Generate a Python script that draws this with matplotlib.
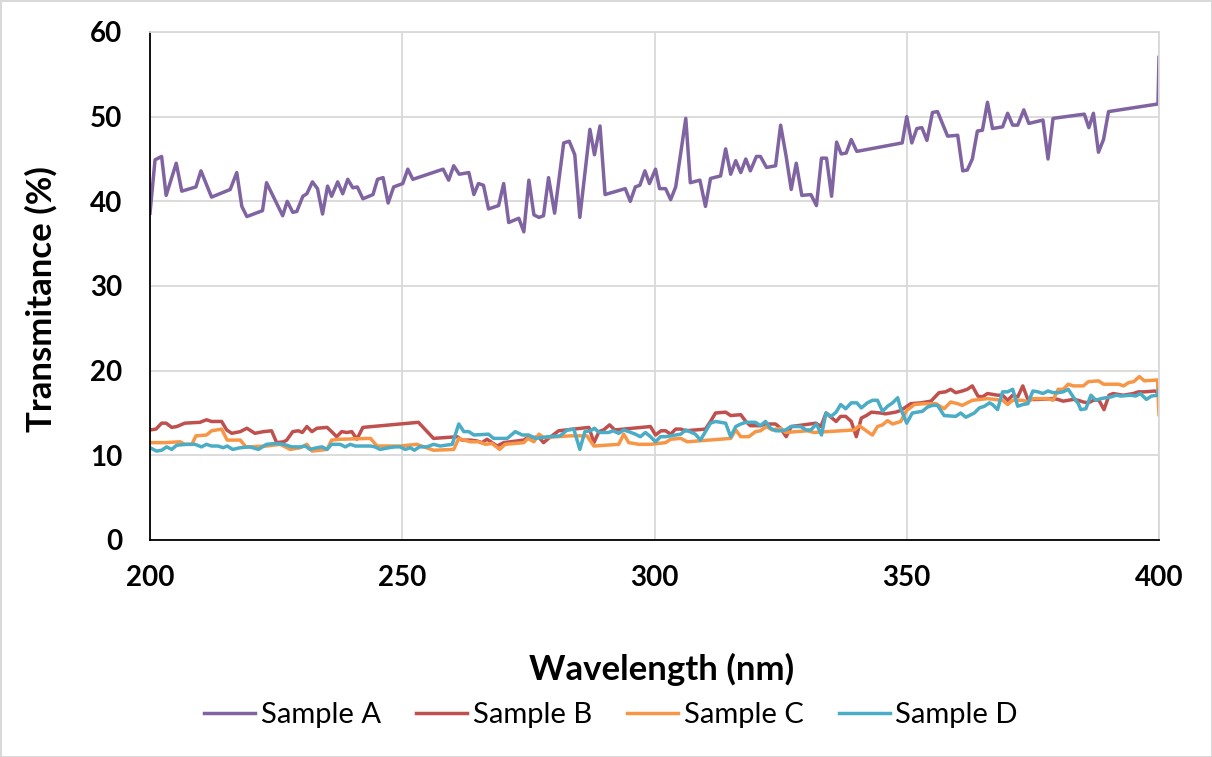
import numpy as np
import matplotlib
matplotlib.use("Agg")
import matplotlib.pyplot as plt

# Sample A
xa = [200.0, 201.0, 202.3, 203.2, 205.2, 206.3, 209.1, 210.1, 212.2, 215.9, 217.2, 218.2, 219.2, 222.3,
      223.1, 226.3, 227.2, 228.3, 229.1, 230.3, 231.1, 232.2, 233.2, 234.2, 235.2, 236.0, 237.2, 238.2,
      239.2, 240.2, 241.1, 242.2, 244.2, 245.1, 246.2, 247.2, 248.3, 250.1, 251.1, 252.1, 258.1, 259.2,
      260.2, 261.3, 263.2, 264.2, 265.1, 266.1, 267.1, 269.1, 270.1, 271.1, 273.1, 274.1, 275.1, 276.1,
      277.1, 278.0, 279.0, 280.2, 282.0, 283.1, 284.2, 285.2, 287.2, 288.1, 289.2, 290.2, 294.2, 295.2,
      296.2, 297.1, 298.1, 299.0, 300.2, 301.0, 302.2, 303.2, 304.2, 305.2, 306.2, 307.1, 309.0, 310.1,
      311.1, 313.1, 314.1, 315.1, 316.1, 317.1, 318.1, 319.0, 320.2, 321.0, 322.2, 324.0, 325.0, 326.1,
      327.1, 328.1, 329.2, 331.0, 332.1, 333.1, 334.1, 335.1, 336.1, 337.0, 338.0, 339.0, 340.1, 349.1,
      350.0, 351.0, 352.0, 353.0, 354.0, 355.1, 356.1, 358.1, 360.1, 361.1, 362.0, 363.0, 364.0, 365.0,
      366.0, 367.0, 369.0, 370.0, 371.0, 372.0, 373.2, 374.2, 377.0, 378.0, 379.0, 385.2, 386.1, 387.0,
      388.0, 389.0, 390.0, 399.8, 400.0]
ya = [38.6, 44.9, 45.3, 40.7, 44.5, 41.2, 41.7, 43.6, 40.5, 41.4, 43.4, 39.4, 38.2, 38.9,
      42.2, 38.3, 40.0, 38.7, 38.8, 40.6, 40.9, 42.3, 41.5, 38.5, 41.8, 40.6, 42.3, 40.9,
      42.6, 41.6, 41.7, 40.3, 40.8, 42.6, 42.8, 39.8, 41.7, 42.1, 43.8, 42.6, 43.8, 42.5,
      44.2, 43.2, 43.4, 40.8, 42.1, 41.9, 39.1, 39.5, 42.1, 37.5, 38.0, 36.4, 42.5, 38.4,
      38.1, 38.3, 42.8, 38.6, 46.9, 47.1, 45.5, 38.1, 48.5, 45.5, 48.9, 40.8, 41.5, 40.0,
      41.7, 41.9, 43.6, 42.1, 43.8, 41.5, 41.5, 40.2, 41.7, 45.7, 49.8, 42.2, 42.5, 39.4,
      42.7, 43.0, 46.2, 43.2, 44.8, 43.4, 45.0, 43.6, 45.3, 45.3, 44.0, 44.2, 49.0, 45.3,
      41.4, 44.5, 40.7, 40.8, 39.5, 45.1, 45.1, 40.6, 47.0, 45.6, 45.7, 47.3, 45.9, 46.9,
      50.0, 46.9, 48.6, 48.7, 47.2, 50.5, 50.6, 47.7, 47.8, 43.6, 43.7, 45.0, 48.3, 48.4,
      51.7, 48.6, 48.8, 50.4, 49.0, 49.0, 50.8, 49.2, 49.6, 45.0, 49.8, 50.3, 48.7, 50.4,
      45.8, 47.3, 50.6, 51.5, 57.0]

# Sample B
xb = [200.0, 201.2, 202.3, 203.2, 204.3, 205.3, 206.9, 209.9, 211.2, 212.2, 214.2, 215.2, 216.2, 217.9,
      219.2, 220.8, 222.5, 224.1, 225.1, 226.5, 227.1, 228.3, 229.4, 230.2, 231.1, 232.1, 233.1, 235.1,
      236.0, 237.0, 238.0, 239.0, 240.0, 241.0, 242.2, 249.6, 253.2, 256.2, 260.9, 261.8, 263.5, 264.8,
      265.8, 266.8, 267.8, 268.8, 270.1, 274.1, 275.1, 276.1, 277.0, 278.0, 279.0, 281.0, 284.0, 287.0,
      288.0, 289.0, 289.9, 291.1, 292.1, 299.2, 300.2, 301.3, 302.2, 303.2, 304.2, 305.2, 306.2, 310.1,
      311.1, 312.1, 314.1, 315.1, 317.1, 318.1, 319.0, 321.0, 322.0, 324.0, 325.0, 326.1, 327.1, 332.0,
      333.0, 334.0, 335.0, 336.0, 336.9, 337.9, 339.0, 340.0, 341.0, 342.0, 343.0, 344.8, 345.8, 347.8,
      348.8, 350.8, 352.8, 354.8, 356.4, 357.7, 358.7, 359.7, 361.0, 362.0, 363.0, 364.1, 365.0, 366.0,
      368.0, 369.0, 370.0, 371.0, 372.0, 373.0, 374.0, 376.0, 379.0, 380.0, 381.0, 382.0, 383.0, 384.0,
      385.0, 386.0, 387.0, 388.1, 389.1, 390.1, 390.9, 392.9, 394.9, 395.9, 397.2, 399.2, 400.0]
yb = [13.0, 13.1, 13.8, 13.8, 13.3, 13.4, 13.8, 13.9, 14.2, 14.0, 14.0, 13.0, 12.6, 12.8,
      13.2, 12.6, 12.8, 12.9, 11.5, 11.6, 11.8, 12.8, 12.9, 12.7, 13.4, 12.8, 13.2, 13.3,
      12.8, 12.2, 12.8, 12.7, 12.8, 11.9, 13.3, 13.7, 13.9, 12.0, 12.2, 11.8, 11.8, 11.7,
      11.5, 11.9, 11.5, 11.1, 11.5, 11.8, 12.2, 12.1, 12.2, 11.5, 12.0, 12.9, 13.1, 13.3,
      11.5, 12.8, 13.0, 13.6, 13.0, 13.4, 12.4, 12.9, 12.9, 12.5, 13.1, 13.1, 12.9, 13.1,
      14.0, 15.0, 15.1, 14.7, 14.8, 14.0, 13.5, 13.5, 13.7, 13.7, 13.2, 12.2, 13.4, 13.8,
      13.4, 15.0, 14.5, 14.0, 14.6, 14.6, 14.0, 12.2, 14.4, 14.7, 15.1, 15.0, 14.9, 15.1,
      15.3, 16.1, 16.2, 16.4, 17.4, 17.5, 17.8, 17.4, 17.6, 17.8, 18.2, 17.0, 16.9, 17.3,
      17.1, 17.1, 16.5, 17.1, 16.9, 18.2, 16.6, 16.6, 16.7, 16.6, 16.4, 16.5, 16.6, 16.5,
      16.3, 16.2, 16.5, 16.5, 15.4, 17.1, 17.3, 17.1, 17.3, 17.5, 17.5, 17.6, 17.3]

# Sample C
xc = [200.0, 203.0, 206.0, 206.9, 208.3, 209.1, 211.2, 212.2, 214.2, 215.3, 217.9, 219.0, 219.8, 223.1,
      225.8, 227.8, 229.8, 231.1, 232.1, 235.1, 236.0, 237.7, 243.7, 245.0, 249.6, 252.9, 256.2, 260.2,
      261.2, 262.2, 263.5, 265.1, 266.5, 267.8, 269.3, 270.4, 274.1, 274.9, 276.1, 277.1, 278.0, 280.7,
      283.3, 286.6, 288.0, 292.9, 293.9, 294.9, 296.9, 299.2, 302.2, 303.2, 305.2, 306.5, 315.1, 316.1,
      317.1, 318.7, 320.0, 321.0, 322.2, 323.3, 325.0, 326.0, 330.3, 331.6, 339.6, 340.6, 342.2, 343.2,
      344.2, 345.2, 346.2, 347.2, 348.8, 350.0, 351.5, 353.4, 355.8, 357.4, 358.7, 360.1, 361.0, 363.0,
      366.0, 369.0, 370.0, 371.0, 373.0, 374.0, 375.0, 378.0, 379.0, 380.0, 381.0, 382.0, 383.0, 385.0,
      386.0, 388.0, 389.0, 392.0, 393.0, 394.0, 395.0, 396.1, 397.1, 399.7, 400.0]
yc = [11.5, 11.5, 11.6, 11.3, 11.3, 12.3, 12.4, 12.9, 13.1, 11.8, 11.8, 11.0, 11.0, 11.1,
      11.3, 10.7, 10.9, 11.3, 10.5, 10.7, 11.8, 11.9, 12.0, 11.1, 11.1, 11.3, 10.6, 10.7,
      12.0, 11.8, 11.6, 11.6, 11.3, 11.4, 10.7, 11.3, 11.5, 12.0, 11.6, 12.5, 12.1, 12.2,
      12.3, 12.3, 11.1, 11.3, 12.5, 11.5, 11.3, 11.3, 11.5, 11.9, 12.0, 11.6, 12.0, 13.0,
      12.2, 12.2, 12.8, 12.9, 13.4, 13.0, 13.2, 12.7, 12.9, 12.7, 13.0, 13.5, 12.8, 12.4,
      13.4, 13.6, 14.1, 13.7, 14.0, 15.3, 16.0, 16.1, 16.1, 15.5, 16.3, 16.1, 15.9, 16.5,
      16.7, 16.5, 16.0, 16.5, 16.5, 16.3, 16.7, 16.7, 16.5, 17.8, 17.8, 18.4, 18.2, 18.2,
      18.7, 18.8, 18.4, 18.4, 18.2, 18.6, 18.7, 19.3, 18.8, 18.9, 14.8]

# Sample D
xd = [200.0, 201.3, 202.3, 203.3, 204.3, 205.3, 207.3, 208.9, 210.2, 211.2, 212.2, 213.5, 214.5, 215.3,
      216.4, 217.9, 219.8, 221.5, 223.1, 224.8, 226.5, 228.1, 229.8, 230.8, 231.7, 233.1, 234.1, 235.1,
      236.0, 237.7, 238.7, 239.7, 240.7, 242.0, 243.7, 244.6, 245.6, 247.3, 248.6, 249.6, 250.6, 251.6,
      252.4, 253.4, 254.9, 256.2, 257.5, 259.9, 261.2, 262.2, 263.2, 264.2, 267.1, 268.1, 270.8, 272.4,
      273.8, 275.1, 276.4, 279.0, 281.3, 282.7, 284.0, 285.2, 286.2, 287.3, 288.1, 289.0, 290.9, 291.8,
      292.9, 293.9, 294.9, 296.2, 297.2, 298.2, 299.2, 300.2, 301.2, 302.2, 305.2, 306.2, 308.1, 309.1,
      310.1, 311.1, 312.1, 314.1, 315.1, 316.1, 317.1, 318.1, 320.0, 321.0, 322.0, 323.0, 324.0, 325.0,
      326.0, 327.0, 329.0, 330.0, 331.0, 332.1, 333.1, 334.0, 335.0, 336.0, 336.9, 337.9, 339.0, 340.1,
      341.0, 342.2, 343.2, 344.2, 345.2, 346.2, 347.2, 348.2, 348.8, 350.0, 351.1, 353.1, 354.1, 355.1,
      356.1, 357.4, 359.7, 360.7, 361.7, 363.4, 364.4, 365.4, 366.4, 367.0, 368.0, 369.0, 370.0, 371.0,
      372.0, 373.0, 374.0, 375.0, 376.0, 377.0, 378.0, 379.0, 380.0, 381.0, 382.0, 383.0, 384.0, 384.5,
      385.5, 386.5, 387.5, 388.5, 390.5, 391.5, 392.5, 394.4, 395.4, 396.3, 397.5, 398.5, 399.8, 400.0]
yd = [10.9, 10.5, 10.6, 11.0, 10.7, 11.2, 11.3, 11.3, 11.0, 11.3, 11.1, 11.1, 10.9, 11.1,
      10.7, 10.9, 11.0, 10.7, 11.3, 11.4, 11.3, 11.0, 11.0, 11.1, 10.7, 10.9, 11.0, 10.7,
      11.3, 11.3, 11.0, 11.3, 11.1, 11.1, 11.1, 11.0, 10.7, 10.9, 11.0, 11.0, 10.7, 10.9,
      10.6, 11.0, 11.0, 11.3, 11.1, 11.3, 13.7, 12.8, 12.8, 12.4, 12.5, 12.0, 12.0, 12.8,
      12.4, 12.4, 12.0, 12.2, 12.3, 13.0, 13.1, 10.7, 12.8, 12.9, 13.2, 12.7, 12.7, 12.9,
      12.6, 13.0, 12.8, 12.5, 12.2, 12.7, 12.2, 11.6, 12.2, 12.2, 12.5, 13.0, 12.5, 11.8,
      12.8, 13.8, 14.0, 13.8, 12.2, 13.4, 13.7, 13.9, 13.9, 13.5, 14.0, 13.2, 12.9, 12.9,
      13.0, 13.4, 13.4, 13.0, 13.0, 13.7, 12.4, 15.0, 14.6, 15.1, 16.0, 15.5, 16.2, 16.2,
      15.6, 16.2, 16.5, 16.5, 15.2, 15.8, 16.2, 16.8, 15.5, 13.8, 15.0, 15.2, 15.7, 15.9,
      15.9, 14.7, 14.6, 15.0, 14.5, 15.0, 15.6, 15.8, 16.2, 16.0, 15.4, 17.5, 17.5, 17.8,
      15.8, 16.0, 16.1, 17.6, 17.5, 17.3, 17.6, 17.4, 17.4, 17.5, 17.8, 16.9, 16.1, 15.4,
      15.5, 17.1, 16.5, 16.7, 16.9, 17.1, 17.0, 17.1, 17.0, 17.3, 16.6, 17.0, 17.1, 17.8]

labels = ["Sample A", "Sample B", "Sample C", "Sample D"]
colors = ["#8064A2", "#C0504D", "#F79646", "#4BACC6"]

plt.rcParams['font.family'] = ['Lato', 'DejaVu Sans']

fig = plt.figure(figsize=(12.12, 7.57), dpi=100)
ax = fig.add_axes([150/1212, 1 - 540/757, 1009/1212, 508/757])

series = [(xa, ya), (xb, yb), (xc, yc), (xd, yd)]
for (x, y), lab, col in zip(series, labels, colors):
    ax.plot(x, y, color=col, linewidth=2.5, label=lab, solid_joinstyle='round')

ax.set_xlim(200, 400)
ax.set_ylim(0, 60)
ax.set_xticks(np.arange(200, 401, 50))
ax.set_yticks(np.arange(0, 61, 10))
ax.grid(True, color="#d9d9d9", linewidth=1.3)
ax.set_axisbelow(True)
for s in ["top", "right"]:
    ax.spines[s].set_color("#d9d9d9")
    ax.spines[s].set_linewidth(1.3)
for s in ["left", "bottom"]:
    ax.spines[s].set_color("black")
    ax.spines[s].set_linewidth(1.3)
ax.tick_params(axis='both', length=0, labelsize=20)
ax.tick_params(axis='x', pad=18)
ax.tick_params(axis='y', pad=20)
for t in ax.get_xticklabels() + ax.get_yticklabels():
    t.set_fontweight('bold')

ax.set_xlabel("Wavelength (nm)", fontsize=25, fontweight='bold')
ax.set_ylabel("Transmitance (%)", fontsize=25, fontweight='bold')
ax.xaxis.set_label_coords(0.507, -0.222)
ax.yaxis.set_label_coords(-0.092, 0.475)

fig.legend(loc='center', bbox_to_anchor=(0.504, 0.0555), ncol=4, frameon=False,
           fontsize=21, handlelength=1.75, handletextpad=0.2, columnspacing=1.2)

fig.patch.set_edgecolor("#d9d9d9")
fig.patch.set_linewidth(2)
fig.savefig("out.png", dpi=100, edgecolor=fig.get_edgecolor())
